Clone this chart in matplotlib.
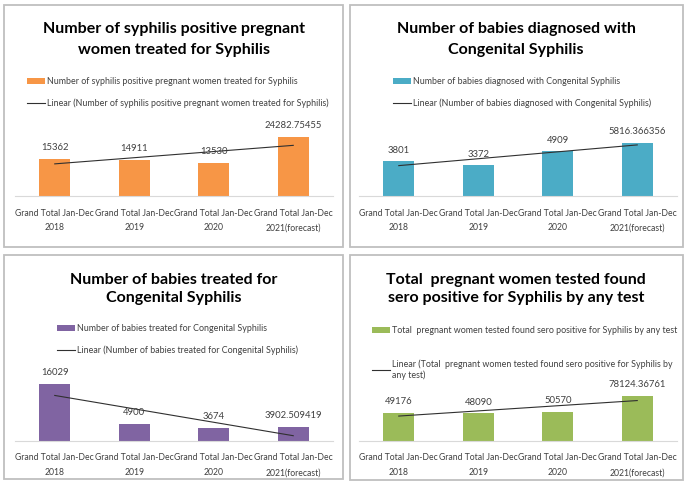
import numpy as np
import matplotlib
matplotlib.use("Agg")
import matplotlib.pyplot as plt
from matplotlib.patches import Rectangle, Patch
from matplotlib.lines import Line2D

# ===============================
# Data
# ===============================
categories = ["Grand Total Jan-Dec\n2018", "Grand Total Jan-Dec\n2019",
              "Grand Total Jan-Dec\n2020", "Grand Total Jan-Dec\n2021(forecast)"]

treated_women = [15362, 14911, 13530, 24282.75455]
treated_women_labels = ["15362", "14911", "13530", "24282.75455"]

babies_diagnosed = [3801, 3372, 4909, 5816.366356]
babies_diagnosed_labels = ["3801", "3372", "4909", "5816.366356"]

babies_treated = [16029, 4900, 3674, 3902.509419]
babies_treated_labels = ["16029", "4900", "3674", "3902.509419"]

sero_positive = [49176, 48090, 50570, 78124.36761]
sero_positive_labels = ["49176", "48090", "50570", "78124.36761"]

titles = [
    "Number of syphilis positive pregnant\nwomen treated for Syphilis",
    "Number of babies diagnosed with\nCongenital Syphilis",
    "Number of babies treated for\nCongenital Syphilis",
    "Total  pregnant women tested found\nsero positive for Syphilis by any test",
]
series_names = [
    "Number of syphilis positive pregnant women treated for Syphilis",
    "Number of babies diagnosed with Congenital Syphilis",
    "Number of babies treated for Congenital Syphilis",
    "Total  pregnant women tested found sero positive for Syphilis by any test",
]
trend_names = [
    "Linear (Number of syphilis positive pregnant women treated for Syphilis)",
    "Linear (Number of babies diagnosed with Congenital Syphilis)",
    "Linear (Number of babies treated for Congenital Syphilis)",
    "Linear (Total  pregnant women tested found sero positive for Syphilis by\nany test)",
]
colors = ["#F79646", "#4BACC6", "#8064A2", "#9BBB59"]

# ===============================
# Layout (pixels)
# ===============================
W, H = 689, 496
fig = plt.figure(figsize=(W / 100, H / 100), dpi=100)
fig.patch.set_facecolor("white")

NARROW = ["Liberation Sans Narrow", "Lato", "DejaVu Sans"]
TITLE = ["Lato", "DejaVu Sans"]
SMALL = 6.2


def fx(x):
    return x / W


def fy(y):
    return 1 - y / H


panels = [
    dict(box=(4, 5, 343, 247), ax=(15, 333, 196, 125), title=(174, 39.5), tls=1.55,
         leg=(27, 77), lsp=1.35, ymax=29200, data=treated_women, labels=treated_women_labels),
    dict(box=(350, 5, 683, 247), ax=(359, 677, 196, 125), title=(516, 39.5), tls=1.55,
         leg=(393, 77), lsp=1.35, ymax=7800, data=babies_diagnosed, labels=babies_diagnosed_labels),
    dict(box=(4, 255, 343, 479), ax=(15, 333, 441, 370), title=(174, 289), tls=1.4,
         leg=(57, 324), lsp=1.35, ymax=19900, data=babies_treated, labels=babies_treated_labels),
    dict(box=(350, 255, 683, 480), ax=(359, 677, 441, 370), title=(516, 289), tls=1.4,
         leg=(372, 326), lsp=2.7, ymax=122700, data=sero_positive, labels=sero_positive_labels),
]

for i, p in enumerate(panels):
    x0, y0, x1, y1 = p["box"]
    fig.add_artist(Rectangle((fx(x0), fy(y1)), fx(x1 - x0), (y1 - y0) / H,
                             transform=fig.transFigure, fill=False,
                             edgecolor="#BFBFBF", linewidth=1.3))

    l, r, b, t = p["ax"]
    ax = fig.add_axes([fx(l), fy(b), fx(r - l), (b - t) / H])
    x = np.arange(len(categories))
    vals = np.array(p["data"])
    ax.bar(x, vals, width=0.39, color=colors[i])

    # linear trendline
    k, c = np.polyfit(x, vals, 1)
    ax.plot(x, k * x + c, color="#303030", linewidth=0.8)

    for xi, v, lab in zip(x, vals, p["labels"]):
        ax.annotate(lab, (xi, v), xytext=(0, 8), textcoords="offset points",
                    ha="center", va="center", fontsize=6.8, color="#404040",
                    family=NARROW)

    ax.set_xlim(-0.5, 3.5)
    ax.set_ylim(0, p["ymax"])
    ax.set_xticks(x)
    ax.set_xticklabels(categories, fontsize=SMALL, color="#404040", family=NARROW,
                       linespacing=1.8)
    ax.tick_params(axis="x", length=0, pad=9)
    ax.set_yticks([])
    for s in ["top", "left", "right"]:
        ax.spines[s].set_visible(False)
    ax.spines["bottom"].set_color("#D9D9D9")
    ax.patch.set_alpha(0)

    tx, ty = p["title"]
    fig.text(fx(tx), fy(ty), titles[i], ha="center", va="center",
             fontsize=11.5, fontweight="bold", family=TITLE, color="black",
             linespacing=p["tls"])

    lx, ly = p["leg"]
    handles = [Patch(facecolor=colors[i], edgecolor="none"),
               Line2D([0], [0], color="#303030", linewidth=0.8)]
    fig.legend(handles, [series_names[i], trend_names[i]], loc="upper left",
               bbox_to_anchor=(fx(lx), fy(ly)), frameon=False, borderpad=0,
               borderaxespad=0, prop={"family": NARROW, "size": 6.4},
               handlelength=2.0, handleheight=0.6, handletextpad=0.2,
               labelspacing=p["lsp"], labelcolor="#404040")

fig.savefig("out.png", dpi=100)
